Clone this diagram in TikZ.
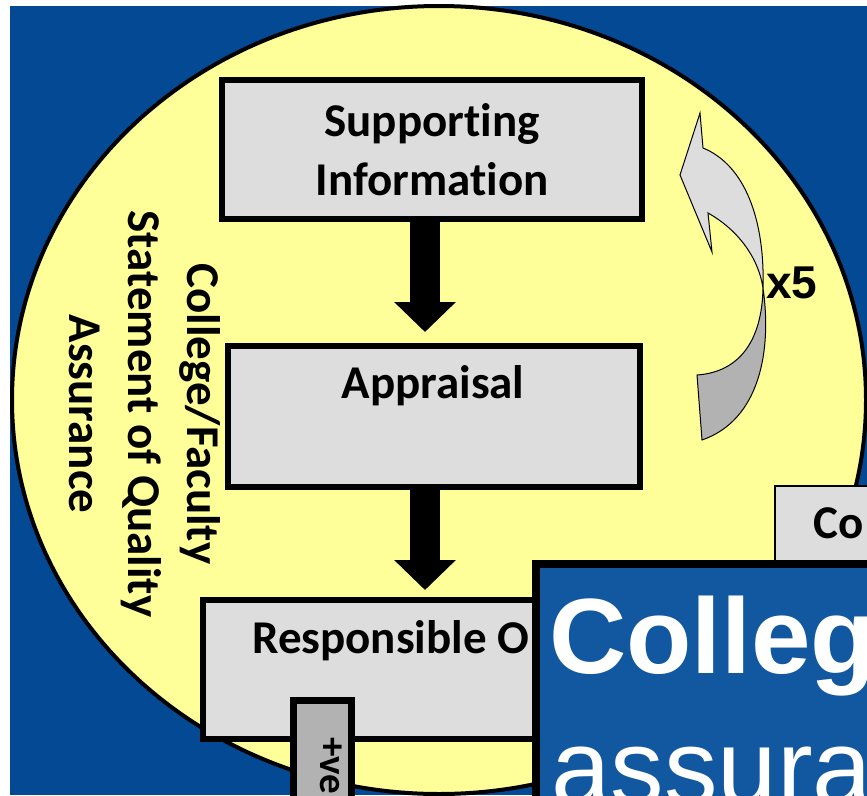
\documentclass[tikz,border=0pt]{standalone}
\usepackage{fontspec}
\setmainfont[Ligatures=NoCommon]{Carlito}
\newfontfamily\arialfont{Liberation Sans}
\usetikzlibrary{arrows.meta}
\definecolor{bgblue}{RGB}{3,73,148}
\definecolor{titleblue}{RGB}{17,88,160}
\definecolor{paleyellow}{RGB}{255,255,153}
\definecolor{boxgray}{RGB}{221,221,221}
\definecolor{tabgray}{RGB}{178,178,178}
\begin{document}
\begin{tikzpicture}[x=1pt, y=-1pt,
		stepbox/.style={draw=black, line width=6pt, fill=boxgray, inner sep=0pt, align=center, font=\fontsize{47}{59}\selectfont\bfseries},
		boxtext/.style={inner sep=0pt, font=\fontsize{47}{59}\selectfont\bfseries},
		blockarrow/.style={line width=30pt, -{Triangle[width=60pt, length=30pt]}},
		titletext/.style={inner sep=0pt, text=white, anchor=base west}]
	\useasboundingbox (0, 0) rectangle (867, 795);
	\clip (0, 0) rectangle (867, 795);
	\fill[bgblue] (10, 6) rectangle (867, 795);
	\draw[fill=paleyellow, line width=4pt] (439, 400) ellipse [x radius=427, y radius=394];

	\node[boxtext, align=center, rotate=-90] at (145, 414) (qa) {College/Faculty\\Statement of Quality\\Assurance};

	\node[stepbox, minimum width=420pt, minimum height=139pt] at (432, 149.5) (sup) {Supporting\\Information};
	\node[stepbox, minimum width=412pt, minimum height=141pt] at (434, 416.5) (app) {};
	\node[boxtext, anchor=base] at (433, 398) (apptext) {Appraisal};
	\node[stepbox, minimum width=444pt, minimum height=139pt] at (425, 669.5) (resp) {};
	\node[boxtext, anchor=base west] at (252, 653) (resptext) {Responsible O};

	\draw[blockarrow] ([xshift=-7pt]sup.south) -- ([xshift=-9pt, yshift=11pt]app.north);
	\draw[blockarrow] ([xshift=-9pt]app.south) -- ([yshift=7pt]resp.north);

	\node[draw=black, line width=7pt, fill=tabgray, minimum width=58pt, minimum height=200pt, anchor=north] at (322.75, 696.5) (pos) {};
	\node[inner sep=0pt, font=\fontsize{39}{44}\selectfont\bfseries, rotate=-90, anchor=base west] at (320, 737) (postext) {+ve};

	\node[draw=black, line width=2pt, fill=boxgray, minimum width=230pt, minimum height=120pt, anchor=north west] at (774, 485) (cobox) {};
	\node[inner sep=0pt, font=\fontsize{47}{50}\selectfont\bfseries, anchor=base west] at (813, 538) (cotext) {Co};

	\fill[boxgray, draw=black, line width=1pt] (703, 148) -- (700, 113) -- (680, 175) -- (712, 252) -- (708, 213)
		.. controls (735, 228) and (758, 255) .. (763, 288)
		.. controls (765, 220) and (745, 165) .. (703, 148) -- cycle;
	\fill[tabgray, draw=black, line width=1pt] (763, 288) .. controls (772, 350) and (760, 420) .. (702, 440)
		-- (697, 375) .. controls (740, 372) and (762, 340) .. (763, 288) -- cycle;
	\node[inner sep=0pt, font=\arialfont\bfseries\fontsize{46}{50}\selectfont, anchor=base west] at (766, 298) (times) {x5};

	\node[draw=black, line width=8pt, fill=titleblue, minimum width=400pt, minimum height=300pt, anchor=north west] at (532, 560) (title) {};
	\node[titletext, font=\arialfont\bfseries\fontsize{107}{131}\selectfont] at (549, 673) (titleone) {College};
	\node[titletext, font=\arialfont\fontsize{107}{131}\selectfont] at (551, 804) (titletwo) {assurance};
\end{tikzpicture}
\end{document}
